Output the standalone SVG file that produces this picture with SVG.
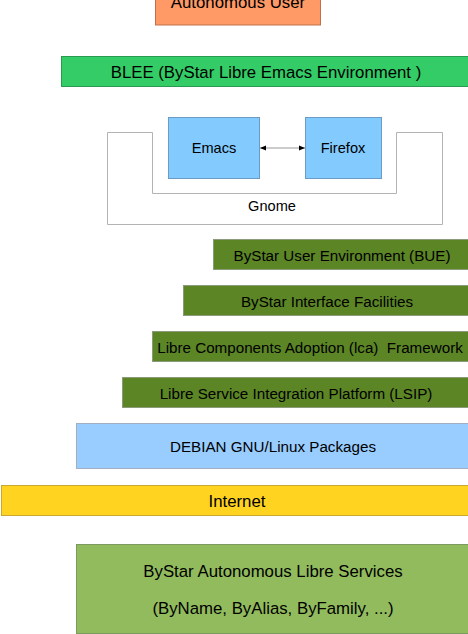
<svg xmlns="http://www.w3.org/2000/svg" width="468" height="634" viewBox="0 0 468 634">
<defs>
<marker id="ah" viewBox="0 0 10 10" refX="10" refY="5" markerWidth="6" markerHeight="6" orient="auto-start-reverse" markerUnits="userSpaceOnUse">
<path d="M0,1 L10,5 L0,9 Z" fill="#000"/>
</marker>
</defs>
<style>
text{font-family:"Liberation Sans",Arial,sans-serif;font-size:15.2px;fill:#000;text-anchor:middle;dominant-baseline:central}
.big{font-size:16.8px}
.sm{font-size:14.6px}
.layer{fill:#5c8526;stroke:#8a9a7a;stroke-width:1}
.app{fill:#83caff;stroke:#6b9bc4;stroke-width:1}
</style>
<rect width="468" height="634" fill="#fff"/>
<g id="user"><rect x="155.5" y="-20" width="165" height="45" fill="#ff9966" stroke="#c0704a"/><text class="big" x="238" y="2">Autonomous User</text></g>
<g id="blee"><rect x="61.5" y="56.5" width="410" height="30" fill="#33cc66" stroke="#2a9a50"/><text class="big" x="266" y="72">BLEE (ByStar Libre Emacs Environment )</text></g>
<g id="gnome"><path d="M107.5,132.5 H152.5 V193.5 H396.5 V132.5 H442.5 V224.5 H107.5 Z" fill="#fff" stroke="#b3b3b3"/><text class="sm" x="272" y="206">Gnome</text></g>
<g id="emacs"><rect class="app" x="168.5" y="117.5" width="91" height="61"/><text class="sm" x="214" y="148">Emacs</text></g>
<g id="firefox"><rect class="app" x="305.5" y="117.5" width="76" height="61"/><text class="sm" x="343" y="148">Firefox</text></g>
<g id="connectors"><line x1="260" y1="148" x2="305" y2="148" stroke="#999" stroke-width="1" marker-start="url(#ah)" marker-end="url(#ah)"/></g>
<g id="bue"><rect class="layer" x="213.5" y="239.5" width="260" height="30"/><text x="342" y="255">ByStar User Environment (BUE)</text></g>
<g id="bif"><rect class="layer" x="183.5" y="285.5" width="290" height="30"/><text x="327" y="301">ByStar Interface Facilities</text></g>
<g id="lca"><rect class="layer" x="152.5" y="331.5" width="320" height="30"/><text x="310" y="347" xml:space="preserve">Libre Components Adoption (lca)  Framework</text></g>
<g id="lsip"><rect class="layer" x="122.5" y="377.5" width="350" height="30"/><text x="296" y="393">Libre Service Integration Platform (LSIP)</text></g>
<g id="debian"><rect x="76.5" y="423.5" width="400" height="45" fill="#99ccff" stroke="#a0b0c0"/><text x="273" y="446">DEBIAN GNU/Linux Packages</text></g>
<g id="internet"><rect x="1.5" y="485.5" width="480" height="30" fill="#ffd320" stroke="#c8a830"/><text class="big" x="237" y="501">Internet</text></g>
<g id="services"><rect x="76.5" y="544.5" width="400" height="89" fill="#92bb5e" stroke="#7a9a60"/><text class="big" x="273" y="571">ByStar Autonomous Libre Services</text><text class="big" x="273" y="608">(ByName, ByAlias, ByFamily, ...)</text></g>
</svg>
